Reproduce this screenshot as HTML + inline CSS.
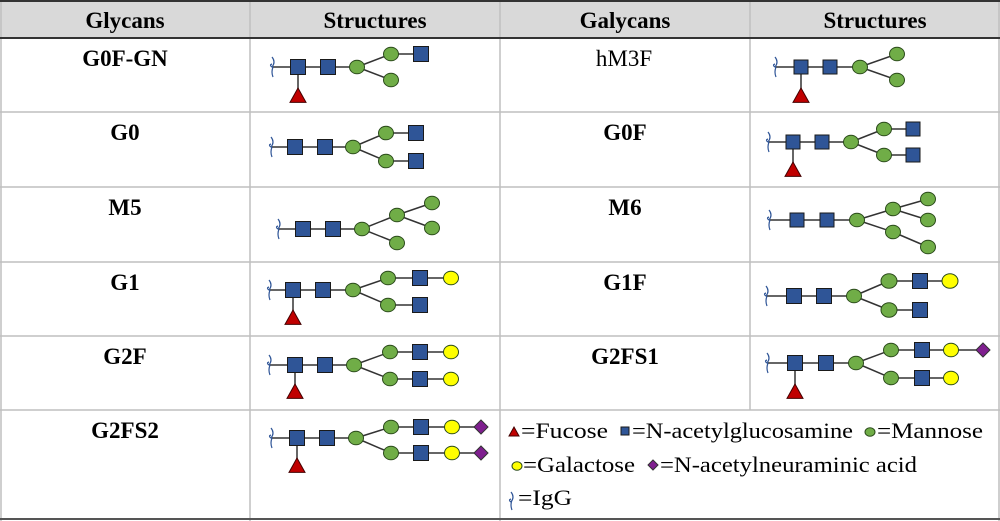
<!DOCTYPE html>
<html><head><meta charset="utf-8"><style>
html,body{margin:0;padding:0;background:#fff;}
svg{display:block;}
text{font-family:"Liberation Serif",serif;fill:#000;}
.h{font-weight:bold;font-size:23px;}
.l{font-weight:bold;font-size:23px;}
.n{font-size:23px;}
.g{font-size:22px;}
</style></head><body>
<svg id="s" width="1000" height="521" viewBox="0 0 1000 521" xmlns="http://www.w3.org/2000/svg">
<rect x="0" y="0" width="1000" height="521" fill="#fff"/>
<rect x="0" y="1" width="1000" height="37" fill="#d9d9d9"/>
<g stroke="#bfbfbf" stroke-width="1.5">
<line x1="0" y1="112" x2="1000" y2="112"/>
<line x1="0" y1="187" x2="1000" y2="187"/>
<line x1="0" y1="262" x2="1000" y2="262"/>
<line x1="0" y1="336" x2="1000" y2="336"/>
<line x1="0" y1="410" x2="1000" y2="410"/>
<line x1="1" y1="0" x2="1" y2="521"/>
<line x1="250" y1="0" x2="250" y2="521"/>
<line x1="500" y1="0" x2="500" y2="521"/>
<line x1="750" y1="0" x2="750" y2="410"/>
<line x1="999" y1="0" x2="999" y2="521"/>
</g>
<line x1="0" y1="1" x2="1000" y2="1" stroke="#333" stroke-width="2"/>
<line x1="0" y1="38" x2="1000" y2="38" stroke="#333" stroke-width="2"/>
<line x1="0" y1="519" x2="1000" y2="519" stroke="#555" stroke-width="2"/>
<text class="h" x="125" y="28" text-anchor="middle">Glycans</text>
<text class="h" x="375" y="28" text-anchor="middle">Structures</text>
<text class="h" x="625" y="28" text-anchor="middle">Galycans</text>
<text class="h" x="875" y="28" text-anchor="middle">Structures</text>
<text class="l" x="125" y="66" text-anchor="middle">G0F-GN</text>
<text class="n" x="624" y="66" text-anchor="middle">hM3F</text>
<text class="l" x="125" y="140" text-anchor="middle">G0</text>
<text class="l" x="625" y="140" text-anchor="middle">G0F</text>
<text class="l" x="125" y="215" text-anchor="middle">M5</text>
<text class="l" x="625" y="215" text-anchor="middle">M6</text>
<text class="l" x="125" y="290" text-anchor="middle">G1</text>
<text class="l" x="625" y="290" text-anchor="middle">G1F</text>
<text class="l" x="125" y="364" text-anchor="middle">G2F</text>
<text class="l" x="625" y="364" text-anchor="middle">G2FS1</text>
<text class="l" x="125" y="438" text-anchor="middle">G2FS2</text>
<text class="g" x="521" y="438" textLength="87" lengthAdjust="spacingAndGlyphs">=Fucose</text>
<text class="g" x="632" y="438" textLength="221" lengthAdjust="spacingAndGlyphs">=N-acetylglucosamine</text>
<text class="g" x="877" y="438" textLength="106" lengthAdjust="spacingAndGlyphs">=Mannose</text>
<text class="g" x="523" y="472" textLength="112" lengthAdjust="spacingAndGlyphs">=Galactose</text>
<text class="g" x="660" y="472" textLength="257" lengthAdjust="spacingAndGlyphs">=N-acetylneuraminic acid</text>
<text class="g" x="518" y="505" textLength="54" lengthAdjust="spacingAndGlyphs">=IgG</text>
<g id="gl"></g>
</svg>
<script>
var out=[];
var L=function(a,b,c,d){out.push('<line x1="'+a+'" y1="'+b+'" x2="'+c+'" y2="'+d+'" stroke="#333" stroke-width="1.5"/>');};
var SQ=function(x,y,s){s=s||15;out.push('<rect x="'+(x-s/2)+'" y="'+(y-s/2)+'" width="'+s+'" height="'+s+'" fill="#2f5597" stroke="#1a1a1a" stroke-width="1"/>');};
var CI=function(x,y,c,r){r=r||7.5;out.push('<ellipse cx="'+x+'" cy="'+y+'" rx="'+r+'" ry="'+(r-0.7)+'" fill="'+c+'" stroke="#2a4a1a" stroke-width="1"/>');};
var M=function(x,y,r){CI(x,y,'#70ad47',r);};
var G=function(x,y,r){CI(x,y,'#ffff00',r);};
var TR=function(x,y,s){s=s||8;out.push('<polygon points="'+x+','+(y-s)+' '+(x+s)+','+(y+s*0.8)+' '+(x-s)+','+(y+s*0.8)+'" fill="#c00000" stroke="#400" stroke-width="1"/>');};
var DI=function(x,y,s){s=s||7;out.push('<polygon points="'+x+','+(y-s)+' '+(x+s)+','+y+' '+x+','+(y+s)+' '+(x-s)+','+y+'" fill="#7f1f8f" stroke="#333" stroke-width="1"/>');};
var IG=function(x,y,s){s=s||1;out.push('<path d="M'+(x-1)+','+(y-10*s)+' q4,5 0,10 q-3,-2 0,-3 M'+(x)+','+(y)+' q-2,5 0,10" fill="none" stroke="#2f5597" stroke-width="1.2"/>');};
function core(ig,s1,s2,m,y,fy,ss){L(ig,y,m,y);IG(ig,y);if(fy){L(s1,y,s1,fy);TR(s1,fy+2);}SQ(s1,y,ss);SQ(s2,y,ss);}
core(273,298,328,357,67,94);L(357,67,391,54);L(357,67,391,80);L(391,54,421,54);M(357,67);M(391,54);M(391,80);SQ(421,54);
core(272,295,325,353,147,0);L(353,147,386,133);L(353,147,386,161);L(386,133,416,133);L(386,161,416,161);M(353,147);M(386,133);M(386,161);SQ(416,133);SQ(416,161);
core(279,303,333,362,229,0);L(362,229,397,215);L(362,229,397,243);L(397,215,432,203);L(397,215,432,228);M(362,229);M(397,215);M(397,243);M(432,203);M(432,228);
core(270,293,323,353,290,316);L(353,290,388,278);L(353,290,388,305);L(388,278,451,278);L(388,305,420,305);M(353,290);M(388,278);M(388,305);SQ(420,278);SQ(420,305);G(451,278);
core(270,295,325,354,365,390);L(354,365,390,352);L(354,365,390,379);L(390,352,451,352);L(390,379,451,379);M(354,365);M(390,352);M(390,379);SQ(420,352);SQ(420,379);G(451,352);G(451,379);
core(272,297,327,356,438,464);L(356,438,391,427);L(356,438,391,453);L(391,427,481,427);L(391,453,481,453);M(356,438);M(391,427);M(391,453);SQ(421,427);SQ(421,453);G(452,427);G(452,453);DI(481,427);DI(481,453);
core(776,801,830,860,67,94,14);L(860,67,897,54);L(860,67,897,80);M(860,67);M(897,54);M(897,80);
core(769,793,822,851,142,168,14);L(851,142,884,129);L(851,142,884,155);L(884,129,913,129);L(884,155,913,155);M(851,142);M(884,129);M(884,155);SQ(913,129,14);SQ(913,155,14);
core(770,797,827,857,220,0,14);L(857,220,893,209);L(857,220,893,232);L(893,209,928,199);L(893,209,928,220);L(893,232,928,247);M(857,220);M(893,209);M(893,232);M(928,199);M(928,220);M(928,247);
core(767,794,824,854,296,0);L(854,296,889,281);L(854,296,889,310);L(889,281,950,281);L(889,310,920,310);M(854,296);M(889,281,8);M(889,310,8);SQ(920,281);SQ(920,310);G(950,281,8);
core(768,795,826,856,363,390);L(856,363,891,350);L(856,363,891,378);L(891,350,983,350);L(891,378,951,378);M(856,363);M(891,350);M(891,378);SQ(922,350);SQ(922,378);G(951,350);G(951,378);DI(983,350);
TR(514,432,5);SQ(625,431,8);CI(870,432,'#70ad47',5);CI(517,466,'#ffff00',5);DI(653,465,5);IG(512,500,0.8);
document.getElementById('gl').innerHTML=out.join('');
</script>
</body></html>
